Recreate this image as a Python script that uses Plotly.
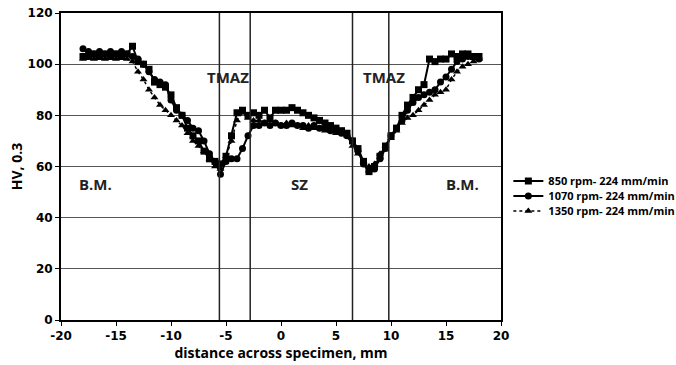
import plotly.graph_objects as go

x_mm = [-18, -17.5, -17, -16.5, -16, -15.5, -15, -14.5, -14, -13.5, -13, -12.5, -12, -11.5, -11, -10.5,
        -10, -9.5, -9, -8.5, -8, -7.5, -7, -6.5, -6, -5.5, -5, -4.5, -4, -3.5, -3, -2.5, -2, -1.5, -1, -0.5,
        0, 0.5, 1, 1.5, 2, 2.5, 3, 3.5, 4, 4.5, 5, 5.5, 6, 6.5, 7, 7.5, 8, 8.5, 9, 9.5,
        10, 10.5, 11, 11.5, 12, 12.5, 13, 13.5, 14, 14.5, 15, 15.5, 16, 16.5, 17, 17.5, 18]

hv_850 = [103, 103, 104, 103, 104, 103, 104, 103, 104, 107, 101, 100, 98, 93, 92, 91,
          88, 83, 80, 75, 72, 70, 66, 63, 62, 61, 64, 72, 81, 82, 80, 81, 80, 82, 79, 82,
          82, 82, 83, 82, 81, 80, 79, 78, 77, 76, 75, 74, 73, 70, 67, 62, 58, 60, 64, 68,
          72, 75, 80, 84, 87, 90, 92, 102, 101, 102, 102, 104, 103, 104, 104, 103, 103]

hv_1070 = [106, 105, 104, 105, 104, 105, 104, 105, 104, 103, 102, 100, 97, 94, 93, 92,
           86, 82, 80, 78, 75, 74, 70, 65, 62, 57, 62, 63, 63, 67, 72, 76, 76, 77, 76, 77,
           76, 76, 77, 76, 76, 75, 76, 75, 75, 74, 74, 73, 72, 70, 66, 61, 58, 59, 63, 67,
           72, 75, 78, 82, 85, 87, 88, 89, 90, 93, 95, 98, 101, 102, 103, 103, 102]

hv_1350 = [102, 103, 102, 103, 102, 103, 102, 103, 102, 101, 97, 94, 90, 87, 84, 82,
           80, 78, 76, 73, 70, 68, 66, 63, 60, 59, 64, 70, 78, 81, 79, 78, 78, 77, 78, 77,
           76, 77, 76, 76, 75, 76, 75, 75, 74, 74, 73, 73, 72, 68, 65, 62, 60, 61, 65, 68,
           71, 74, 77, 79, 80, 82, 84, 86, 88, 89, 90, 94, 97, 99, 100, 101, 102]

series_names = ["850 rpm- 224 mm/min", "1070 rpm- 224 mm/min", "1350 rpm- 224 mm/min"]
zone_lines = [-5.6, -2.8, 6.5, 9.8]
zone_labels = ["TMAZ", "TMAZ", "B.M.", "SZ", "B.M."]
zone_label_x = [-4.8, 9.4, -16.9, 1.7, 16.5]
zone_label_y = [95, 95, 53, 53, 53]
x_ticks = [-20, -15, -10, -5, 0, 5, 10, 15, 20]
x_tick_text = ["-20", "-15", "-10", "-5", "0", "5", "10", "15", "20"]
y_ticks = [0, 20, 40, 60, 80, 100, 120]

fig = go.Figure()
fig.add_trace(go.Scatter(x=x_mm, y=hv_850, name=series_names[0], mode="lines+markers",
                         line=dict(color="black", width=2), legend="legend",
                         marker=dict(symbol="square", size=7, color="black")))
fig.add_trace(go.Scatter(x=x_mm, y=hv_1070, name=series_names[1], mode="lines+markers",
                         line=dict(color="black", width=2), legend="legend2",
                         marker=dict(symbol="circle", size=7, color="black")))
fig.add_trace(go.Scatter(x=x_mm, y=hv_1350, name=series_names[2], mode="lines+markers",
                         line=dict(color="black", width=1.5, dash="dot"), legend="legend3",
                         marker=dict(symbol="triangle-up", size=7, color="black")))

for xv in zone_lines:
    fig.add_shape(type="line", x0=xv, x1=xv, y0=0, y1=120, xref="x", yref="y",
                  line=dict(color="#222222", width=1.5))

for t, xv, yv in zip(zone_labels, zone_label_x, zone_label_y):
    fig.add_annotation(x=xv, y=yv, text="<b>%s</b>" % t, showarrow=False,
                       font=dict(family="Open Sans", size=15, color="#222222"))

def leg(yc):
    return dict(xref="container", yref="container", x=0.752, y=yc,
                xanchor="left", yanchor="middle",
                font=dict(family="Open Sans", size=11, color="black", weight="bold"),
                bgcolor="rgba(0,0,0,0)", itemwidth=30)

fig.update_layout(
    width=676, height=365,
    margin=dict(l=61, r=175, t=13, b=45, autoexpand=False),
    paper_bgcolor="white", plot_bgcolor="white",
    showlegend=True,
    legend=leg(0.504), legend2=leg(0.463), legend3=leg(0.422),
    font=dict(family="DejaVu Sans", color="black"),
)
fig.update_xaxes(range=[-20, 20], tickvals=x_ticks, ticktext=x_tick_text, showgrid=False, zeroline=False,
                 showline=True, linecolor="black", linewidth=2, mirror=True, automargin=False,
                 ticks="outside", ticklen=4, tickcolor="black",
                 tickfont=dict(family="DejaVu Sans", size=12, color="black", weight="bold"),
                 title=dict(text="<b>distance across specimen, mm</b>", standoff=4,
                            font=dict(family="Open Sans", size=14, color="black")))
fig.update_yaxes(range=[0, 120], tickvals=y_ticks, showgrid=True, gridcolor="#555555", gridwidth=1,
                 zeroline=False, showline=True, linecolor="black", linewidth=2, mirror=True,
                 automargin=False,
                 ticks="outside", ticklen=4, tickcolor="black",
                 tickfont=dict(family="DejaVu Sans", size=12, color="black", weight="bold"),
                 title=dict(text="<b>HV, 0.3</b>", standoff=2,
                            font=dict(family="Open Sans", size=14, color="black")))

fig.write_html("out.html")
